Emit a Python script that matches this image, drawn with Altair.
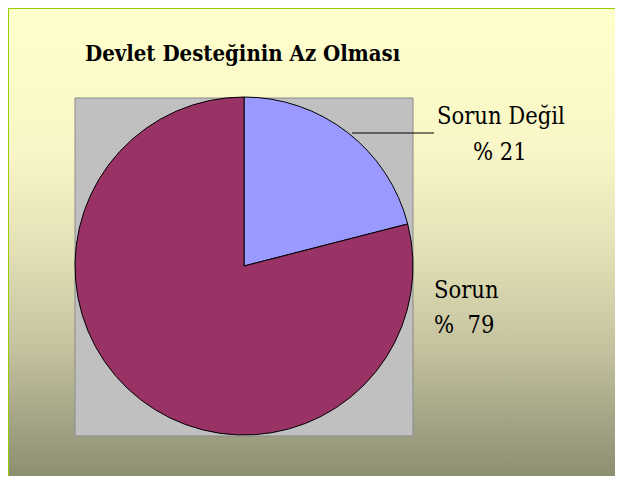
import altair as alt
import pandas as pd

# Data
categories = ["Sorun Değil", "Sorun"]
values = [21, 79]
colors = ["#9999FF", "#993366"]
label_line1 = ["Sorun Değil", "Sorun"]
label_line2 = ["% 21", "%\u00a0\u00a079"]

W, H = 607, 468
FONT = "DejaVu Serif Condensed"

df = pd.DataFrame({"cat": categories, "val": values, "order": [0, 1]})
one = pd.DataFrame({"a": [0]})

bg = alt.Chart(one).mark_rect(
    color=alt.Gradient(
        gradient="linear",
        stops=[
            alt.GradientStop(color="#FFFFCC", offset=0),
            alt.GradientStop(color="#F8F6C6", offset=0.3),
            alt.GradientStop(color="#E3E0B6", offset=0.5),
            alt.GradientStop(color="#C4C29E", offset=0.7),
            alt.GradientStop(color="#A3A385", offset=0.85),
            alt.GradientStop(color="#868668", offset=1),
        ],
        x1=0, x2=0, y1=0, y2=1,
    ),
    stroke="#99CC00",
    strokeWidth=2,
).encode(x=alt.value(0), x2=alt.value(W + 20), y=alt.value(0), y2=alt.value(H + 20))

plotbg = alt.Chart(one).mark_rect(
    fill="#C0C0C0", stroke="#8A8A8A", strokeWidth=1
).encode(x=alt.value(67), x2=alt.value(405), y=alt.value(90), y2=alt.value(428))

pie = alt.Chart(df).mark_arc(
    outerRadius=169, stroke="black", strokeWidth=1
).encode(
    theta=alt.Theta("val:Q", stack=True),
    order=alt.Order("order:Q"),
    color=alt.Color("cat:N", scale=alt.Scale(domain=categories, range=colors), legend=None),
    x=alt.value(236),
    y=alt.value(258),
)

leader = alt.Chart(one).mark_rule(color="black", strokeWidth=1).encode(
    x=alt.value(344), x2=alt.value(426), y=alt.value(125)
)

title = alt.Chart(one).mark_text(
    text="Devlet Desteğinin Az Olması", font=FONT, fontWeight="bold",
    fontSize=22, align="left", baseline="alphabetic", color="black"
).encode(x=alt.value(77), y=alt.value(53))

def lab(t, x, y):
    return alt.Chart(one).mark_text(
        text=t, font=FONT, fontSize=23.5, align="left",
        baseline="alphabetic", color="black"
    ).encode(x=alt.value(x), y=alt.value(y))

labels = [
    lab(label_line1[0], 429, 116),
    lab(label_line2[0], 465, 152),
    lab(label_line1[1], 426, 290),
    lab(label_line2[1], 426, 325),
]

chart = alt.layer(bg, plotbg, pie, leader, title, *labels).properties(
    width=W, height=H, autosize=alt.AutoSizeParams(type="none"), padding=0
).configure_view(stroke=None)

chart.save("out.html", embed_options={"renderer": "svg", "actions": False})
